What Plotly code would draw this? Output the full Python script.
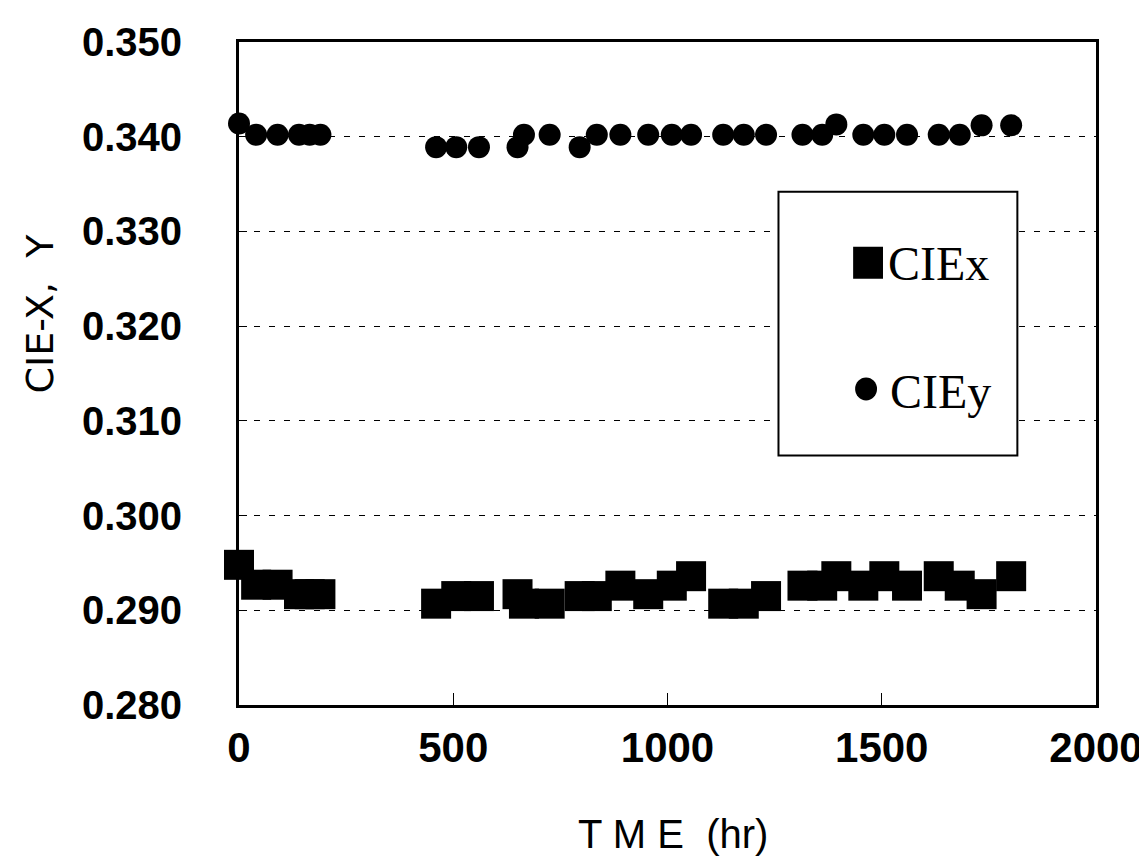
import plotly.graph_objects as go

# ---- data ----
time_hr = [0, 40, 90, 140, 165, 190, 460, 507, 560, 650, 665, 725, 795, 835, 890,
           955, 1010, 1055, 1130, 1178, 1230, 1315, 1361, 1394, 1457, 1506, 1559,
           1633, 1682, 1733, 1802]
cie_x = [0.2948, 0.2927, 0.2927, 0.2917, 0.2917, 0.2917, 0.2907, 0.2915, 0.2915,
         0.2917, 0.2907, 0.2907, 0.2915, 0.2915, 0.2926, 0.2917, 0.2926, 0.2936,
         0.2907, 0.2907, 0.2915, 0.2926, 0.2926, 0.2936, 0.2926, 0.2936, 0.2926,
         0.2936, 0.2926, 0.2917, 0.2936]
cie_y = [0.3414, 0.3402, 0.3402, 0.3402, 0.3402, 0.3402, 0.3389, 0.3389, 0.3389,
         0.3389, 0.3402, 0.3402, 0.3389, 0.3402, 0.3402, 0.3402, 0.3402, 0.3402,
         0.3402, 0.3402, 0.3402, 0.3402, 0.3402, 0.3413, 0.3402, 0.3402, 0.3402,
         0.3402, 0.3402, 0.3412, 0.3412]
y_ticks = [0.280, 0.290, 0.300, 0.310, 0.320, 0.330, 0.340, 0.350]
x_ticks = [0, 500, 1000, 1500, 2000]
series_names = ["CIEx", "CIEy"]

W, H = 1147, 863
L, R, T, B = 231, 1092, 33, 697


def px(xp):
    return (xp - L) / (R - L)


def py(yp):
    return (B - yp) / (B - T)


fig = go.Figure()
fig.add_trace(go.Scatter(x=time_hr, y=cie_x, mode="markers", name=series_names[0],
                         marker=dict(symbol="square", size=30, color="black"),
                         cliponaxis=False, showlegend=False))
fig.add_trace(go.Scatter(x=time_hr, y=cie_y, mode="markers", name=series_names[1],
                         marker=dict(symbol="circle", size=22, color="black"),
                         cliponaxis=False, showlegend=False))

tick_font_y = dict(family="Liberation Sans, Arial, sans-serif", size=40, color="black", weight="bold")
tick_font_x = dict(family="Liberation Sans, Arial, sans-serif", size=42, color="black", weight="bold")

fig.update_layout(
    width=W, height=H,
    margin=dict(l=L, r=W - R, t=T, b=H - B),
    paper_bgcolor="white", plot_bgcolor="white",
    xaxis=dict(range=[0, 2000], tickvals=x_ticks, ticktext=[str(v) for v in x_ticks],
               showgrid=False, zeroline=False, showline=True, linecolor="black",
               linewidth=3, mirror=True, ticks="inside", ticklen=12, tickwidth=1,
               tickcolor="black", tickfont=tick_font_x, ticklabelstandoff=4),
    yaxis=dict(range=[0.280, 0.350], tickvals=y_ticks,
               ticktext=[f"{v:.3f}" for v in y_ticks],
               showgrid=True, gridcolor="black", gridwidth=1, griddash="6px,9px",
               zeroline=False, showline=True, linecolor="black", linewidth=3,
               mirror=True, ticks="inside", ticklen=8, tickwidth=1, tickcolor="black",
               tickfont=tick_font_y, ticklabelstandoff=46),
)

# axis titles
fig.add_annotation(text="T M E  (hr)", xref="paper", yref="paper", x=px(667), y=py(826),
                   showarrow=False, xanchor="center", yanchor="middle",
                   font=dict(family="Liberation Sans, sans-serif", size=40, color="black"))
fig.add_annotation(text="CIE-X,  Y", xref="paper", yref="paper", x=px(31), y=py(305),
                   showarrow=False, xanchor="center", yanchor="middle", textangle=-90,
                   font=dict(family="DejaVu Sans, sans-serif", size=38, color="black"))

# legend box drawn manually
fig.add_shape(type="rect", xref="paper", yref="paper",
              x0=px(773), x1=px(1013), y0=py(447), y1=py(183),
              line=dict(color="black", width=2), fillcolor="white", layer="above")
fig.add_shape(type="rect", xref="paper", yref="paper",
              x0=px(848), x1=px(878), y0=py(270), y1=py(238),
              line=dict(color="black", width=0), fillcolor="black", layer="above")
fig.add_shape(type="circle", xref="paper", yref="paper",
              x0=px(850), x1=px(872), y0=py(392), y1=py(369),
              line=dict(color="black", width=0), fillcolor="black", layer="above")
leg_font = dict(family="Liberation Serif, Times New Roman, serif", size=48, color="black")
fig.add_annotation(text=series_names[0], xref="paper", yref="paper", x=px(881), y=py(255),
                   showarrow=False, xanchor="left", yanchor="middle", font=leg_font)
fig.add_annotation(text=series_names[1], xref="paper", yref="paper", x=px(883), y=py(383),
                   showarrow=False, xanchor="left", yanchor="middle", font=leg_font)

fig.write_html("out.html")
